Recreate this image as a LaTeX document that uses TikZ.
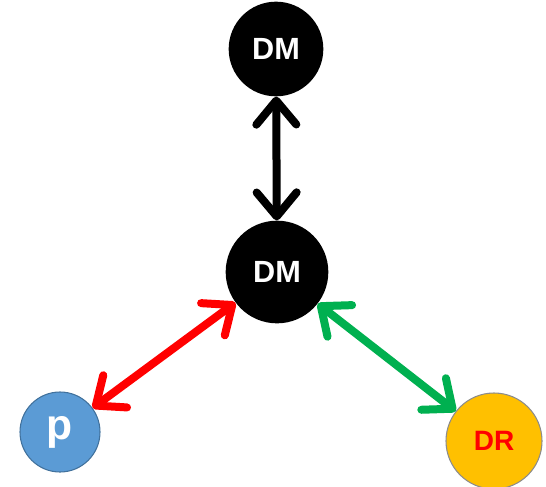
\documentclass[tikz,border=0pt]{standalone}
\usepackage{fontspec}
\setsansfont{Liberation Sans}
\usepackage{tikz}
\usetikzlibrary{arrows.meta}
\definecolor{dmfill}{HTML}{000000}
\definecolor{pfill}{HTML}{5B9BD5}
\definecolor{pline}{HTML}{41719C}
\definecolor{drfill}{HTML}{FFC000}
\definecolor{drline}{HTML}{8C8C8C}
\definecolor{redarr}{HTML}{FF0000}
\definecolor{greenarr}{HTML}{00B050}

\begin{document}
\begin{tikzpicture}[x=0.75pt, y=-0.75pt,
  font=\sffamily\bfseries\fontsize{23}{27}\selectfont,
  agent/.style={circle, inner sep=0pt, text=white},
  arr/.style={{Straight Barb[length=18pt, width=30pt, round]}-{Straight Barb[length=18pt, width=30pt, round]}, line width=6pt, line cap=round}]
\useasboundingbox (0,0) rectangle (546,486);
\node[agent, fill=dmfill, minimum size=71pt] (dmtop) at (276,49) {DM};
\node[agent, fill=dmfill, minimum size=77pt] (dmmid) at (277,272) {DM};
\node[agent, fill=pfill, draw=pline, line width=0.8pt, minimum size=60pt, font=\sffamily\bfseries\fontsize{32}{36}\selectfont] (p) at (60,432) {p};
\node[agent, fill=drfill, draw=drline, line width=0.8pt, minimum size=72pt, text=redarr, font=\sffamily\bfseries\fontsize{21}{25}\selectfont] (dr) at (494,441) {DR};
\draw[arr, draw=black] (dmtop) -- (dmmid);
\draw[arr, draw=redarr] (p) -- (dmmid);
\draw[arr, draw=greenarr] (dmmid) -- (dr);
\end{tikzpicture}
\end{document}
